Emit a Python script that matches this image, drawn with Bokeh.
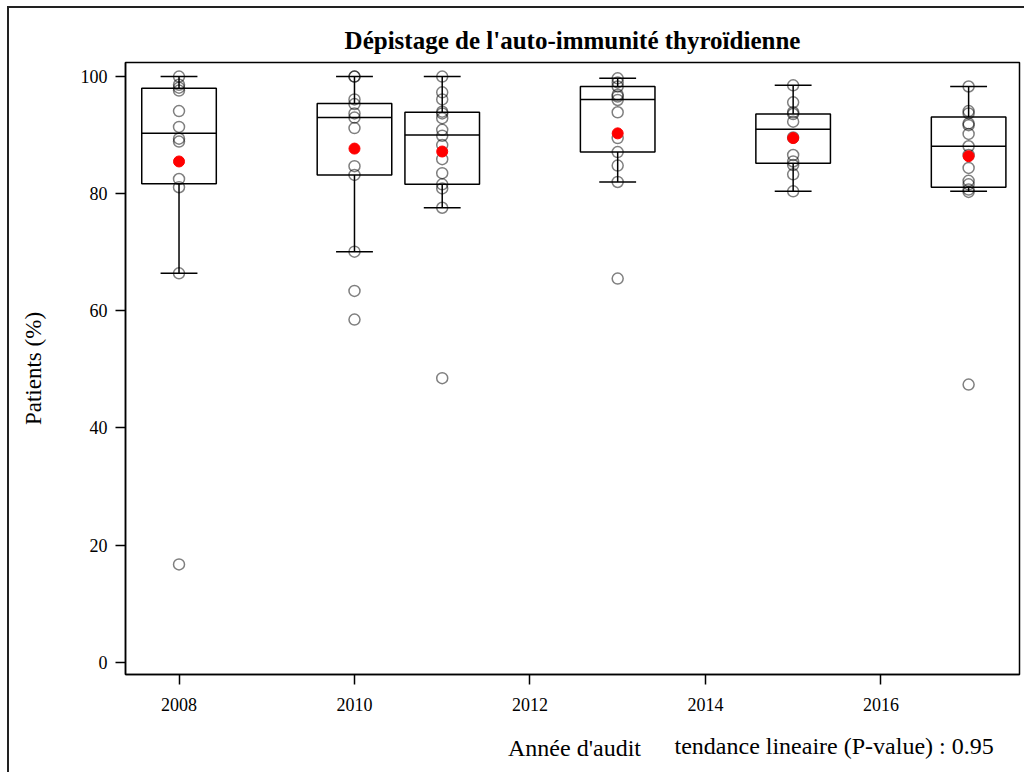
from bokeh.plotting import figure
from bokeh.models import Range1d, FixedTicker, Label, ColumnDataSource
from bokeh.embed import file_html
from bokeh.resources import INLINE

# ---- data ----
years = [2008, 2010, 2011, 2013, 2015, 2017]
q1 = [81.7, 83.2, 81.6, 87.1, 85.2, 81.1]
median = [90.3, 93.0, 90.0, 96.1, 91.0, 88.1]
q3 = [98.0, 95.4, 93.9, 98.3, 93.6, 93.1]
whisk_lo = [66.4, 70.1, 77.6, 82.0, 80.4, 80.4]
whisk_hi = [100.0, 100.0, 100.0, 99.7, 98.5, 98.3]
means = [85.5, 87.7, 87.2, 90.3, 89.5, 86.4]

pts_2008 = [100.0, 98.6, 98.1, 97.6, 94.1, 91.4, 89.4, 88.9, 82.5, 81.1, 66.4, 16.7]
pts_2010 = [100.0, 100.0, 96.1, 95.3, 93.7, 93.0, 91.2, 84.7, 83.2, 70.1, 63.4, 58.5]
pts_2011 = [100.0, 97.3, 96.1, 94.0, 93.7, 92.9, 90.9, 89.9, 88.3, 85.9, 83.5, 81.6, 80.9, 77.6, 48.5]
pts_2013 = [99.7, 99.0, 98.3, 96.9, 96.6, 96.0, 93.9, 89.5, 87.1, 84.8, 82.0, 65.5]
pts_2015 = [98.5, 95.6, 93.9, 93.6, 92.3, 89.6, 86.6, 85.5, 84.9, 83.3, 80.4]
pts_2017 = [98.3, 94.1, 93.7, 92.0, 91.7, 90.2, 88.1, 86.6, 84.4, 82.2, 81.6, 80.7, 80.3, 47.4]
points_by_year = [pts_2008, pts_2010, pts_2011, pts_2013, pts_2015, pts_2017]

x_ticks = [2008, 2010, 2012, 2014, 2016]
y_ticks = [0, 20, 40, 60, 80, 100]

title_text = "Dépistage de l'auto-immunité thyroïdienne"
x_label = "Année d'audit"
y_label = "Patients (%)"
note_text = "tendance lineaire (P-value) : 0.95"

BOX_HALF = 0.425
CAP_HALF = 0.21
FONT = "Liberation Serif"

p = figure(width=1017, height=766, output_backend="svg", toolbar_location=None,
           x_range=Range1d(2007.39, 2017.58), y_range=Range1d(-2.1, 102.4),
           min_border_left=116, min_border_right=7, min_border_top=54, min_border_bottom=100,
           title=title_text)
p.styles = {"margin-left": "7px", "margin-top": "6px",
            "border-left": "2px solid #222", "border-top": "2px solid #222"}

p.title.align = "center"
p.title.text_font = FONT
p.title.text_font_size = "25px"
p.title.text_font_style = "bold"
p.title.text_color = "black"
p.title.standoff = 17

p.xgrid.visible = False
p.ygrid.visible = False
p.outline_line_color = "black"
p.outline_line_width = 1.5
p.outline_line_alpha = 1.0

for ax in (p.xaxis[0], p.yaxis[0]):
    ax.axis_line_color = "black"
    ax.axis_line_width = 1.5
    ax.major_tick_line_color = "black"
    ax.major_tick_line_width = 1.5
    ax.major_tick_out = 10
    ax.major_tick_in = 0
    ax.minor_tick_line_color = None
    ax.major_label_text_font = FONT
    ax.major_label_text_font_size = "18px"
    ax.major_label_text_color = "black"
    ax.axis_label_text_font = FONT
    ax.axis_label_text_font_size = "23px"
    ax.axis_label_text_font_style = "normal"
    ax.axis_label_text_color = "black"

p.xaxis.ticker = FixedTicker(ticks=x_ticks)
p.yaxis.ticker = FixedTicker(ticks=y_ticks)
p.yaxis.axis_label = y_label
p.xaxis.major_label_standoff = 13
p.yaxis.major_label_standoff = 8
p.yaxis.axis_label_standoff = 32

# boxes
box_src = ColumnDataSource(dict(
    left=[y - BOX_HALF for y in years], right=[y + BOX_HALF for y in years],
    q1=q1, q3=q3, med=median, lo=whisk_lo, hi=whisk_hi, x=years, mean=means,
    cl=[y - CAP_HALF for y in years], cr=[y + CAP_HALF for y in years]))

p.segment(x0="x", y0="q3", x1="x", y1="hi", source=box_src, line_color="black", line_width=1.5)
p.segment(x0="x", y0="q1", x1="x", y1="lo", source=box_src, line_color="black", line_width=1.5)
p.segment(x0="cl", y0="hi", x1="cr", y1="hi", source=box_src, line_color="black", line_width=1.5)
p.segment(x0="cl", y0="lo", x1="cr", y1="lo", source=box_src, line_color="black", line_width=1.5)
p.quad(left="left", right="right", bottom="q1", top="q3", source=box_src,
       fill_color=None, line_color="black", line_width=1.5)
p.segment(x0="left", y0="med", x1="right", y1="med", source=box_src, line_color="black", line_width=1.5)

# individual points
px, py = [], []
for yr, pts in zip(years, points_by_year):
    px.extend([yr] * len(pts))
    py.extend(pts)
p.scatter(px, py, size=11, marker="circle", fill_color=None,
          line_color="black", line_alpha=0.5, line_width=1.5)

# means
p.scatter(x="x", y="mean", source=box_src, size=11, marker="circle",
          fill_color="red", line_color="red")

# x-axis title and note on one line in the bottom panel (canvas units)
xlab = Label(x=563, y=737, x_units="canvas", y_units="canvas", text=x_label,
             text_font=FONT, text_font_size="24px", text_color="black",
             text_baseline="middle", text_align="center")
p.add_layout(xlab, "below")
note = Label(x=663, y=735, x_units="canvas", y_units="canvas", text=note_text,
             text_font=FONT, text_font_size="24px", text_color="black",
             text_baseline="middle", text_align="left")
p.add_layout(note, "below")

open("out.html", "w").write(file_html(p, INLINE))
